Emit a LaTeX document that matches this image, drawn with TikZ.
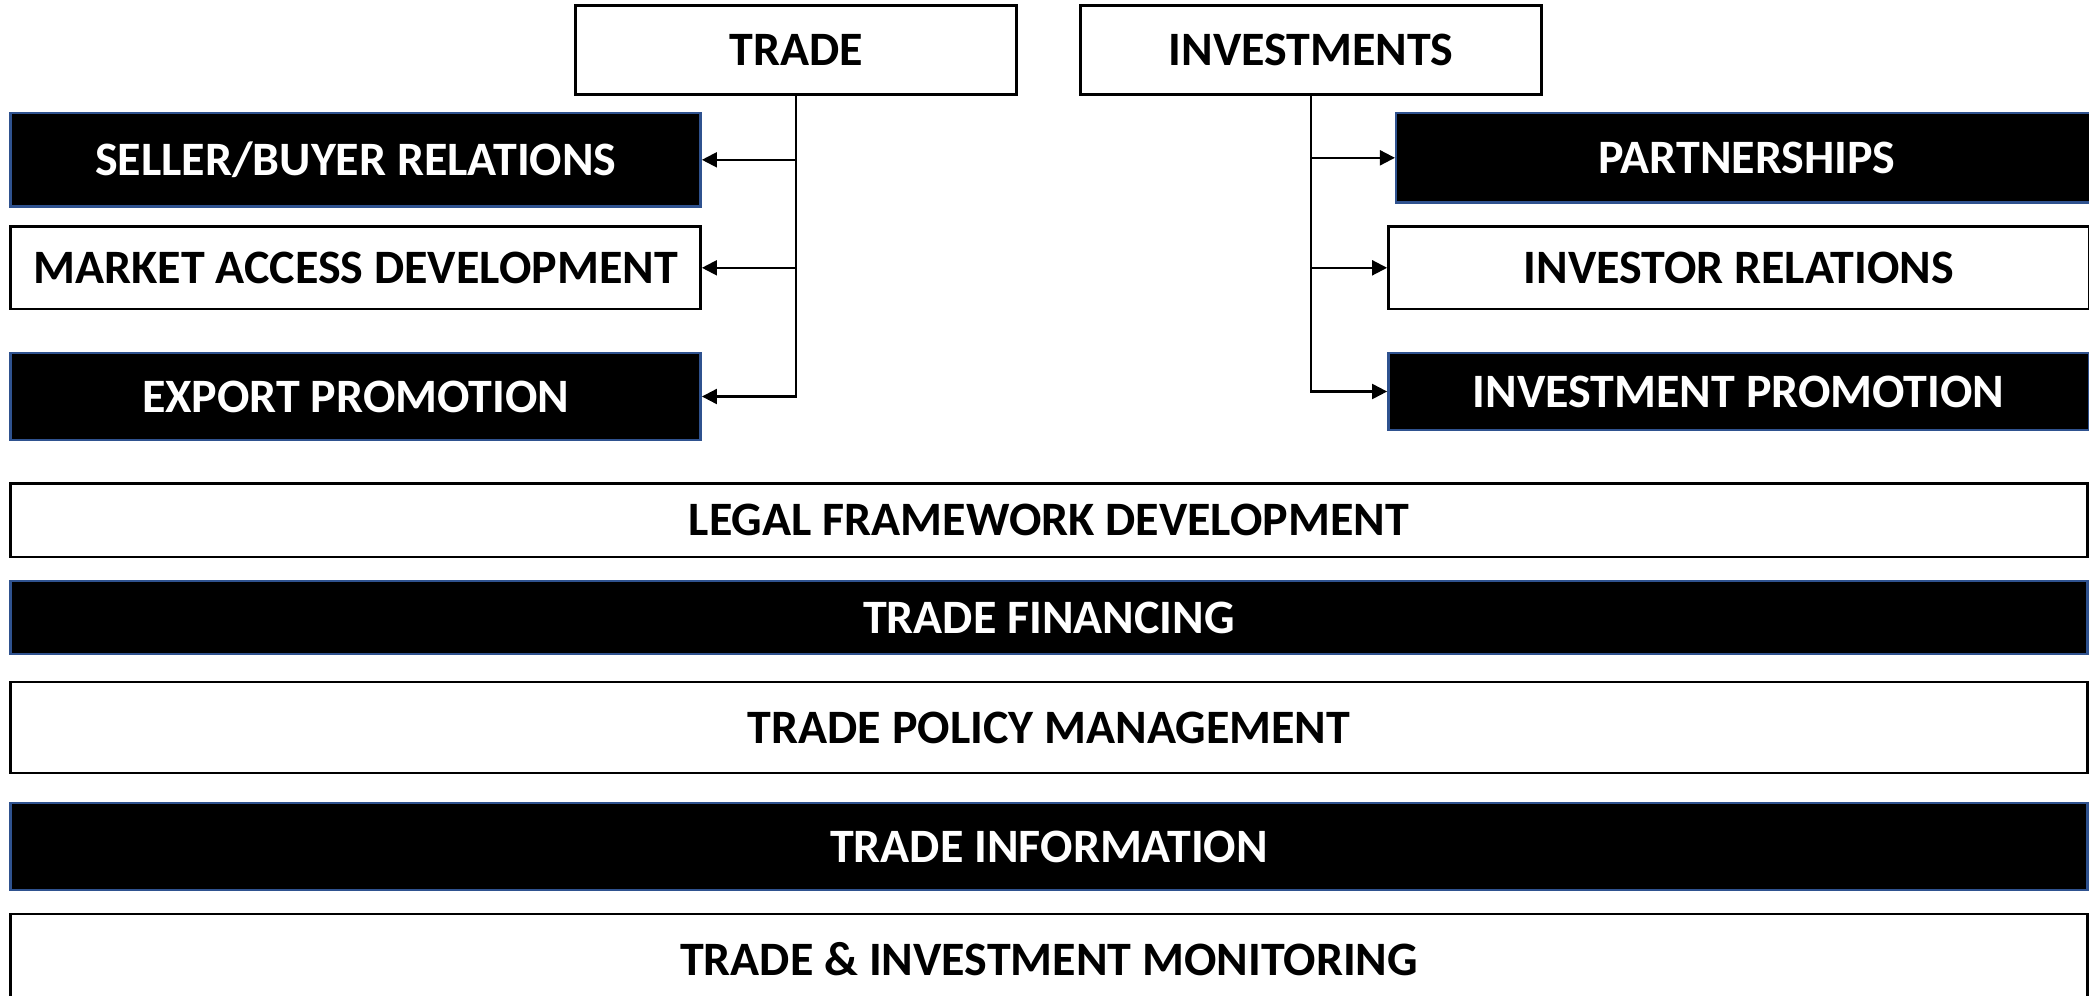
\documentclass[tikz,border=0pt]{standalone}
\usepackage{fontspec}
\setmainfont{Carlito}
\usetikzlibrary{positioning,arrows.meta}
\definecolor{frameblue}{RGB}{47,82,143}

\begin{document}
\begin{tikzpicture}[>={Triangle[length=1.5mm,width=1.5mm]},node distance=1cm]
  \useasboundingbox (0,0) rectangle (20.89,-9.95);
  \tikzset{
    lightBox/.style={rectangle,draw=black,line width=0.7pt,fill=white,text=black,
      inner sep=0pt,font=\fontsize{13.65}{15}\selectfont\bfseries},
    darkBox/.style={rectangle,draw=frameblue,line width=0.7pt,fill=black,text=white,
      inner sep=0pt,font=\fontsize{13.65}{15}\selectfont\bfseries},
    sideBox/.style={minimum width=6.90cm},
    wideBox/.style={minimum width=20.77cm},
    % connector style
    branch/.style={->,line width=0.6pt}
  }

  %% Heads
  \node [lightBox, minimum width=4.41cm, minimum height=0.89cm] (trade) at (7.96,-0.50) {TRADE};
  \node [lightBox, minimum width=4.61cm, minimum height=0.89cm] (invest) at (13.11,-0.50) {INVESTMENTS};

  %% Trade side
  \node [darkBox, sideBox, minimum height=0.935cm] (seller) at (3.557,-1.598) {SELLER/BUYER RELATIONS};
  \node [lightBox, sideBox, minimum height=0.825cm, node distance=1.08cm] (market) [below of=seller] {MARKET ACCESS DEVELOPMENT};
  \node [darkBox, sideBox, minimum height=0.87cm, node distance=1.287cm] (export) [below of=market] {EXPORT PROMOTION};

  \draw [branch] (trade.south) |- (seller.east);
  \draw [branch] (trade.south) |- (market.east);
  \draw [branch] (trade.south) |- (export.east);

  %% Investments side
  \node [darkBox, minimum width=7.017cm, minimum height=0.895cm] (partner) at (17.47,-1.578) {PARTNERSHIPS};
  \node [lightBox, minimum width=7.007cm, minimum height=0.825cm] (investor) at (17.387,-2.678) {INVESTOR RELATIONS};
  \node [darkBox, minimum width=7.007cm, minimum height=0.77cm, node distance=1.237cm] (promo) [below of=investor] {INVESTMENT PROMOTION};

  \draw [branch] (invest.south) |- (partner.west);
  \draw [branch] (invest.south) |- (investor.west);
  \draw [branch] (invest.south) |- (promo.west);

  %% Common bands
  \node [lightBox, wideBox, minimum height=0.734cm] (legal) at (10.49,-5.203) {LEGAL FRAMEWORK DEVELOPMENT};
  \node [darkBox, wideBox, minimum height=0.73cm, node distance=0.972cm] (finance) [below of=legal] {TRADE FINANCING};
  \node [lightBox, wideBox, minimum height=0.91cm, node distance=1.10cm] (policy) [below of=finance] {TRADE POLICY MANAGEMENT};
  \node [darkBox, wideBox, minimum height=0.87cm, node distance=1.19cm] (info) [below of=policy] {TRADE INFORMATION};
  \node [lightBox, wideBox, minimum height=0.90cm, node distance=1.125cm] (monitor) [below of=info] {TRADE \& INVESTMENT MONITORING};

\end{tikzpicture}
\end{document}
